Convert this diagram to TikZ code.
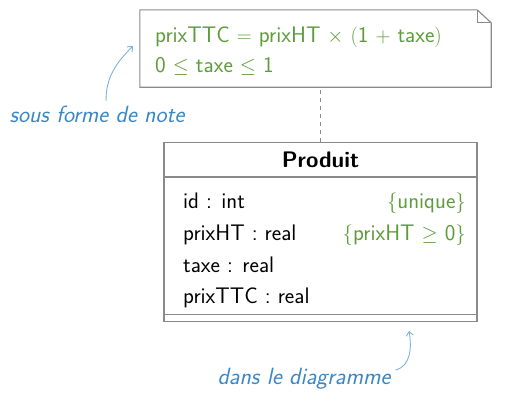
\documentclass[tikz,border=0pt]{standalone}
\usepackage{tikz}
\usetikzlibrary{positioning, arrows.meta, calc}
\usepackage{amsmath}
\usepackage{amssymb}
\definecolor{NoteGreen}{HTML}{5E9B3A}
\definecolor{RemarkBlue}{HTML}{3A87C6}
\definecolor{ArrowBlue}{HTML}{7DB2DC}
\definecolor{BoxGrey}{HTML}{8A8A8A}

\begin{document}
\begin{tikzpicture}[
    x=1pt, y=-1pt,
    umlline/.style={draw=BoxGrey, line width=1.1pt},
    txt/.style={font=\fontsize{22.5}{26}\selectfont\sffamily, inner sep=0pt},
    attr/.style={txt, anchor=base west},
    constr/.style={txt, anchor=base east, text=NoteGreen},
    remark/.style={font=\fontsize{23.5}{27}\selectfont\sffamily\itshape, text=RemarkBlue, inner sep=0pt, anchor=base},
    annot/.style={draw=ArrowBlue, line width=0.9pt, -{Straight Barb[length=4pt, width=7pt]}}
]
  \useasboundingbox (0,0) rectangle (522,408);

  % Note with folded corner
  \node[minimum width=351pt, minimum height=77pt, inner sep=0pt] (note) at (315.5,48.5) {};
  \draw[umlline] (note.north west) -- ([xshift=-14pt]note.north east)
    -- ([yshift=-13pt]note.north east) -- (note.south east) -- (note.south west) -- cycle;
  \draw[umlline] ([xshift=-14pt]note.north east) -- ([xshift=-14pt, yshift=-13pt]note.north east)
    -- ([yshift=-13pt]note.north east);
  \node[attr, text=NoteGreen] (rule1) at (155,42) {prixTTC $=$ prixHT $\times$ $($1 $+$ taxe$)$};
  \node[attr, text=NoteGreen] (rule2) at (155,72) {0 $\leq$ taxe $\leq$ 1};

  % Class Produit
  \node[umlline, minimum width=313pt, minimum height=179pt, inner sep=0pt] (produit) at (320.5,232) {};
  \draw[umlline] ([yshift=-35pt]produit.north west) -- ([yshift=-35pt]produit.north east);
  \draw[umlline] ([yshift=8pt]produit.south west) -- ([yshift=8pt]produit.south east);
  \node[txt, anchor=base, font=\fontsize{22.5}{26}\selectfont\sffamily\bfseries] (title) at (320.5,167) {Produit};
  \node[attr] (id) at (183,208) {id : int};
  \node[attr] (prixHT) at (183,240) {prixHT : real};
  \node[attr] (taxe) at (183,272) {taxe : real};
  \node[attr] (prixTTC) at (183,303) {prixTTC : real};
  \node[constr] (unique) at (466,208) {$\{$unique$\}$};
  \node[constr] (positif) at (466,240) {$\{$prixHT $\geq$ 0$\}$};

  % Note attached to the class
  \draw[umlline, dash pattern=on 4pt off 4pt] (produit.north) -- (produit.north |- note.south);

  % Remarks
  \node[remark] (noteLabel) at (97,122) {sous forme de note};
  \node[remark] (diagLabel) at (304,384) {dans le diagramme};
  \coordinate (noteTip) at (133,46);
  \coordinate (diagTip) at (409,331);
  \draw[annot] ([xshift=9pt, yshift=21pt]noteLabel.base) to[out=90, in=225] (noteTip);
  \draw[annot] ([xshift=5pt, yshift=14pt]diagLabel.base east) to[out=15, in=-80] (diagTip);
\end{tikzpicture}
\end{document}
